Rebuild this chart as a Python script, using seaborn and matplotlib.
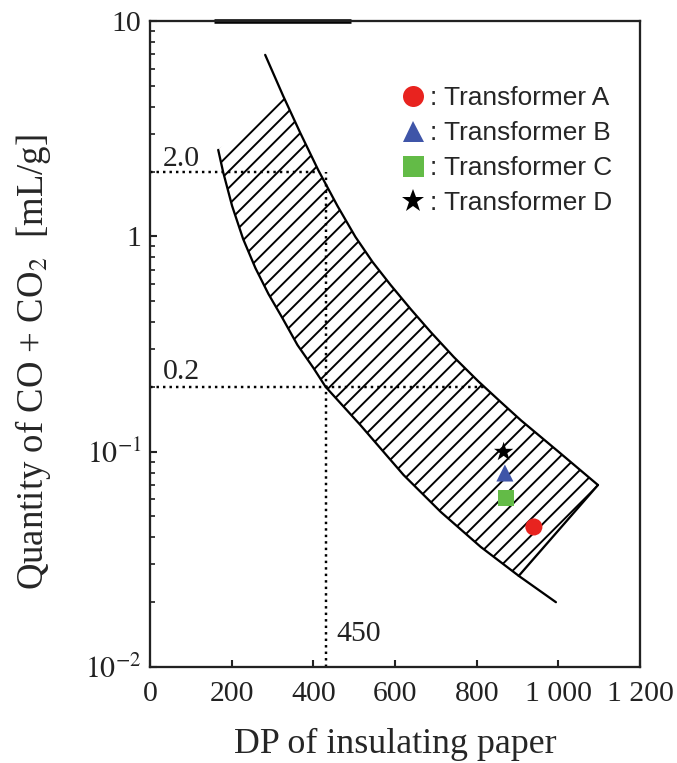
import matplotlib
matplotlib.use("Agg")
import matplotlib.pyplot as plt
import seaborn as sns
from matplotlib.lines import Line2D

# 数据：从参考图读取
upper_dp = [282, 326, 368, 412, 459, 503, 545, 589, 638, 687, 744, 803, 859, 908, 1001, 1097]
upper_gas = [6.96, 4.49, 3.02, 2.03, 1.384, 0.994, 0.760, 0.595, 0.460, 0.360, 0.275, 0.213,
             0.170, 0.140, 0.0997, 0.070]

lower_dp = [167, 179, 201, 228, 258, 290, 324, 361, 400, 430, 515, 621, 712, 810, 903, 994]
lower_gas = [2.52, 1.99, 1.384, 0.972, 0.713, 0.540, 0.418, 0.313, 0.245, 0.200, 0.133,
             0.0779, 0.0525, 0.0361, 0.0265, 0.0200]

names = ["Transformer A", "Transformer B", "Transformer C", "Transformer D"]
tr_dp = [940, 869, 871, 866]
tr_gas = [0.0447, 0.0796, 0.061, 0.0997]
colors = {"Transformer A": "#e8231f", "Transformer B": "#3f55a8",
          "Transformer C": "#63bb47", "Transformer D": "#000000"}
markers = {"Transformer A": "o", "Transformer B": "^",
           "Transformer C": "s", "Transformer D": "*"}

ref_gas = [2.0, 0.2]
ref_dp = 430
ref_dp_label = "450"

x_ticks = [0, 200, 400, 600, 800, 1000, 1200]
x_labels = ["0", "200", "400", "600", "800", "1 000", "1 200"]
y_ticks = [0.01, 0.1, 1, 10]
y_labels = [r"$10^{-2}$", r"$10^{-1}$", "1", "10"]

DPI = 100
K = 126 / DPI  # 尺寸按 126dpi 下调好的值换算

sizes = {"Transformer A": 95 * K * K, "Transformer B": 95 * K * K,
         "Transformer C": 85 * K * K, "Transformer D": 135 * K * K}

sns.set_style("ticks")
plt.rcParams["font.family"] = ["Liberation Serif", "DejaVu Serif"]
plt.rcParams["mathtext.fontset"] = "stix"
plt.rcParams["hatch.linewidth"] = 1.1 * K

fig = plt.figure(figsize=(677 / DPI, 763 / DPI), dpi=DPI)
ax = fig.add_axes([0.2216, 0.1258, 0.7238, 0.8467])
ax.set_yscale("log")
ax.set_xlim(0, 1200)
ax.set_ylim(0.01, 10)

# 阴影带：下曲线 + 右端封口 + 上曲线（截到阴影顶部）
n_low = 15
poly_x = lower_dp[:n_low] + upper_dp[:0:-1]
poly_y = lower_gas[:n_low] + upper_gas[:0:-1]
ax.fill(poly_x, poly_y, facecolor="none", edgecolor="black", hatch="//", linewidth=0)

# 边界曲线
lw = 1.3 * K
sns.lineplot(x=upper_dp, y=upper_gas, ax=ax, color="black", lw=lw, sort=False)
sns.lineplot(x=lower_dp, y=lower_gas, ax=ax, color="black", lw=lw, sort=False)
ax.plot([lower_dp[n_low - 1], upper_dp[-1]], [lower_gas[n_low - 1], upper_gas[-1]],
        color="black", lw=lw)

# 参考虚线
ax.plot([0, 413], [ref_gas[0], ref_gas[0]], color="black", ls=":", lw=1.4 * K)
ax.plot([0, 818], [ref_gas[1], ref_gas[1]], color="black", ls=":", lw=1.4 * K)
ax.plot([ref_dp, ref_dp], [0.01, ref_gas[0]], color="black", ls=":", lw=1.4 * K)
ax.annotate("2.0", (32, ref_gas[0]), xytext=(0, 0), textcoords="offset points",
            va="bottom", ha="left", fontsize=17 * K, color="#222222")
ax.annotate("0.2", (32, ref_gas[1]), xytext=(0, 1 * K), textcoords="offset points",
            va="bottom", ha="left", fontsize=17 * K, color="#222222")
ax.text(457, 0.0142, ref_dp_label, va="center", ha="left", fontsize=17 * K, color="#222222")

# 变压器数据点
sns.scatterplot(x=tr_dp, y=tr_gas, hue=names, style=names, size=names, palette=colors,
                markers=markers, sizes=sizes, edgecolor="none", legend=False, ax=ax, zorder=5)

handles = [Line2D([], [], ls="none", marker=markers[n], color=colors[n],
                  markersize=(13.5 if n == "Transformer D" else 12) * K, markeredgewidth=0)
           for n in names]
ax.legend(handles, [": Transformer " + n[-1] for n in names], loc="upper right",
          bbox_to_anchor=(0.965, 0.915), frameon=False, handlelength=1.0,
          handletextpad=0.15, labelspacing=0.42, borderaxespad=0,
          prop={"family": ["Liberation Sans", "DejaVu Sans"], "size": 15 * K})

ax.set_xticks(x_ticks, labels=x_labels)
ax.set_yticks(y_ticks, labels=y_labels)
ax.tick_params(axis="both", which="major", direction="in", length=4 * K, width=1.2 * K,
               labelsize=17 * K, colors="#222222")
ax.tick_params(axis="x", pad=8 * K)
ax.tick_params(axis="y", pad=5 * K)
ax.tick_params(axis="y", which="minor", direction="in", length=3 * K, width=1.0 * K)
for s in ax.spines.values():
    s.set_linewidth(1.3 * K)
    s.set_color("#222222")
ax.plot([0.13, 0.41], [1, 1], transform=ax.transAxes, color="black", lw=2.6 * K,
        clip_on=False, solid_capstyle="butt")

ax.set_xlabel("DP of insulating paper", fontsize=20.5 * K, labelpad=12 * K)
ax.set_ylabel(r"Quantity of CO + CO$_2$  [mL/g]", fontsize=21 * K, labelpad=18 * K, y=0.472)

fig.savefig("out.png", dpi=DPI, facecolor="white")
